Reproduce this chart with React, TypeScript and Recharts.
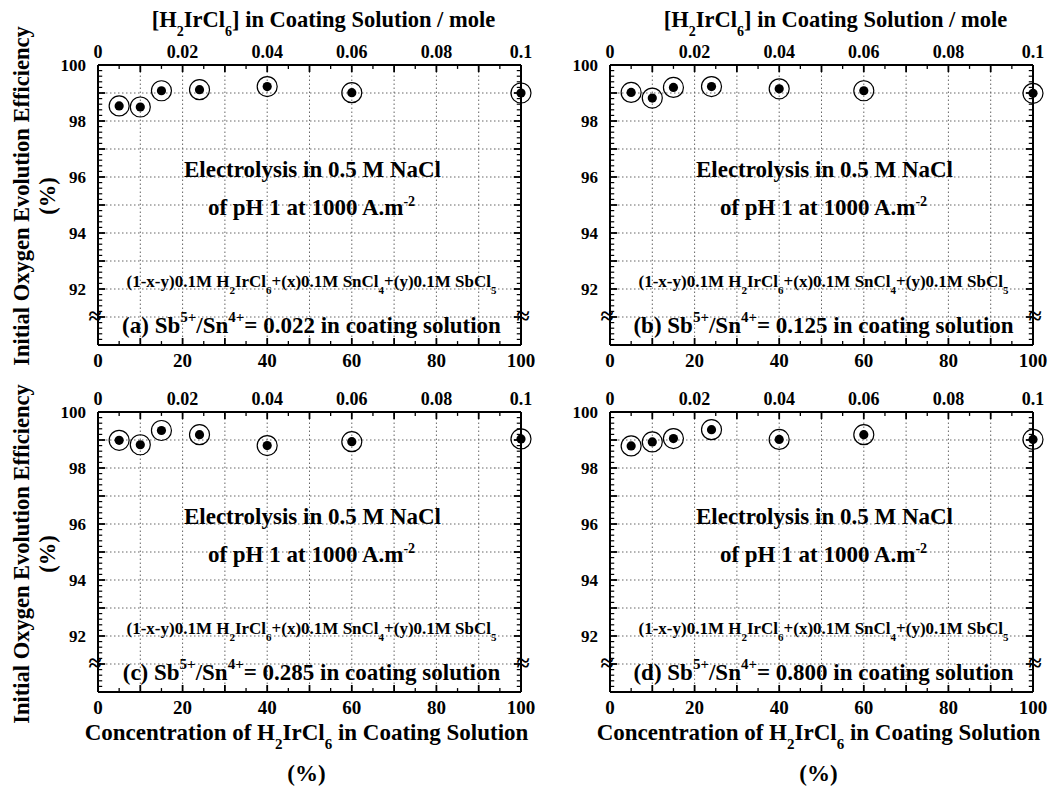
import React from "react";
import { ScatterChart, Scatter, XAxis, YAxis, ReferenceLine, ReferenceDot } from "recharts";

// H2IrCl6 share in the coating solution (%)
const conc = [5, 10, 15, 24, 40, 60, 100];

// initial O2 evolution efficiency (%) for each Sb/Sn ratio
const effA = [98.54, 98.5, 99.08, 99.12, 99.23, 99.01, 99.0];
const effB = [99.02, 98.82, 99.2, 99.23, 99.15, 99.08, 98.99];
const effC = [98.99, 98.83, 99.34, 99.19, 98.8, 98.94, 99.04];
const effD = [98.79, 98.93, 99.05, 99.37, 99.02, 99.19, 99.02];

const letters = ["a", "b", "c", "d"];
const ratios = ["0.022", "0.125", "0.285", "0.800"];

const xTicks = [0, 20, 40, 60, 80, 100];
const xGrid = [10, 20, 30, 40, 50, 60, 70, 80, 90];
const moleTicks = [0, 0.02, 0.04, 0.06, 0.08, 0.1];
const yTicks = [92, 94, 96, 98, 100];
const yGrid = [91, 92, 93, 94, 95, 96, 97, 98, 99];

const range = (a: number, b: number, step: number) => {
  const out: number[] = [];
  for (let v = a; v <= b + 1e-9; v += step) out.push(Math.round(v * 100) / 100);
  return out;
};
const xMinor = range(5, 95, 5);
const yMinor = range(90.2, 99.8, 0.2);

const FONT = "Liberation Serif, DejaVu Serif, serif";
const PW = 423;
const PH = 280;
const YW = 45;
const XH = 30;
const MR = 15;

// tick lengths in data units (~4px short, ~7px long)
const TX = [1.0, 1.7];
const TY = [0.14, 0.25];

const panels = [
  { eff: effA, left: 98, top: 65 },
  { eff: effB, left: 610, top: 65 },
  { eff: effC, left: 98, top: 412 },
  { eff: effD, left: 610, top: 412 },
];

const Marker = (props: any) => {
  const { cx, cy } = props;
  return (
    <g>
      <circle cx={cx} cy={cy} r={10} fill="none" stroke="#000" strokeWidth={1.2} />
      <circle cx={cx} cy={cy} r={4.6} fill="#000" />
    </g>
  );
};

const Hidden = () => <g />;

const Squiggle = (props: any) => (
  <text x={props.cx + (props.dx || 0)} y={props.cy + 7} textAnchor="middle" fontFamily={FONT} fontSize={24} fontWeight="bold" fill="#000">
    ≈
  </text>
);

const frame = { stroke: "#000", strokeWidth: 2 };

function Panel({ eff, left, top }: { eff: number[]; left: number; top: number }) {
  const data = conc.map((c, i) => ({ x: c, y: eff[i], m: c / 1000 }));
  const tickStyle = { fontFamily: FONT, fontWeight: "bold", fill: "#000" };
  const domY = [90, 100];
  const ax = { xAxisId: "b", yAxisId: "l" };
  const tickMarks: any[] = [];
  xMinor.forEach((v) => {
    const major = v % 10 === 0;
    const lenY = major ? TY[1] : TY[0];
    const sw = major ? 1.8 : 1.3;
    tickMarks.push(<ReferenceLine key={"xb" + v} {...ax} segment={[{ x: v, y: 90 }, { x: v, y: 90 + lenY }]} stroke="#000" strokeWidth={sw} />);
    tickMarks.push(<ReferenceLine key={"xt" + v} {...ax} segment={[{ x: v, y: 100 }, { x: v, y: 100 - lenY }]} stroke="#000" strokeWidth={sw} />);
  });
  yMinor.forEach((v) => {
    const isInt = Math.abs(v - Math.round(v)) < 1e-6;
    const len = isInt ? TX[1] : TX[0];
    const sw = isInt ? 1.8 : 1.2;
    tickMarks.push(<ReferenceLine key={"yl" + v} {...ax} segment={[{ x: 0, y: v }, { x: len, y: v }]} stroke="#000" strokeWidth={sw} />);
    tickMarks.push(<ReferenceLine key={"yr" + v} {...ax} segment={[{ x: 100, y: v }, { x: 100 - len, y: v }]} stroke="#000" strokeWidth={sw} />);
  });
  return (
    <div style={{ position: "absolute", left: left - YW, top: top - XH }}>
      <ScatterChart width={YW + PW + MR + 1} height={XH + PH + XH} margin={{ top: 0, right: MR, bottom: 0, left: 0 }}>
        <XAxis xAxisId="b" dataKey="x" orientation="bottom" type="number" domain={[0, 100]} ticks={xTicks} interval={0} tickLine={false} tickMargin={3} height={XH} axisLine={frame} tick={{ ...tickStyle, fontSize: 19 }} />
        <XAxis xAxisId="t" dataKey="m" orientation="top" type="number" domain={[0, 0.1]} ticks={moleTicks} interval={0} tickLine={false} tickMargin={1} height={XH} axisLine={frame} tick={{ ...tickStyle, fontSize: 18 }} />
        <YAxis yAxisId="l" dataKey="y" orientation="left" type="number" domain={domY} ticks={yTicks} interval={0} tickLine={false} tickMargin={6} width={YW} axisLine={frame} tick={{ ...tickStyle, fontSize: 17 }} />
        <YAxis yAxisId="r" dataKey="y" orientation="right" type="number" domain={domY} ticks={yTicks} interval={0} tick={false} tickLine={false} width={1} axisLine={frame} />
        {xGrid.map((v) => (
          <ReferenceLine key={"gx" + v} {...ax} x={v} stroke="#666" strokeWidth={1} strokeDasharray="1.5 2.5" />
        ))}
        {yGrid.map((v) => (
          <ReferenceLine key={"gy" + v} {...ax} y={v} stroke="#666" strokeWidth={1} strokeDasharray="1.5 2.5" />
        ))}
        {tickMarks}
        <ReferenceDot {...ax} x={0} y={91} shape={(p: any) => <Squiggle {...p} dx={-3} />} />
        <ReferenceDot {...ax} x={100} y={91} shape={(p: any) => <Squiggle {...p} dx={2} />} />
        <Scatter xAxisId="t" yAxisId="r" data={data} shape={Hidden} isAnimationActive={false} />
        <Scatter xAxisId="b" yAxisId="l" data={data} shape={Marker} isAnimationActive={false} />
      </ScatterChart>
    </div>
  );
}

const Sub = ({ t, size, d }: { t: string; size: number; d: number }) => (
  <tspan dy={d} fontSize={size}>
    {t}
  </tspan>
);

function Annotations() {
  return (
    <svg width={1052} height={788} style={{ position: "absolute", left: 0, top: 0, pointerEvents: "none" }} fontFamily={FONT} fontWeight="bold" fill="#000">
      {panels.map((p, i) => {
        const cx = p.left + PW / 2;
        return (
          <g key={i}>
            {i < 2 && (
              <text x={cx + 14} y={p.top - 38} textAnchor="middle" fontSize={22.5}>
                [H<Sub t="2" size={14} d={9} />
                <tspan dy={-9}>IrCl</tspan>
                <Sub t="6" size={14} d={9} />
                <tspan dy={-9}>] in Coating Solution / mole</tspan>
              </text>
            )}
            {i >= 2 && (
              <>
                <text x={cx - 3} y={p.top + 328} textAnchor="middle" fontSize={23}>
                  Concentration of H<Sub t="2" size={15} d={9} />
                  <tspan dy={-9}>IrCl</tspan>
                  <Sub t="6" size={15} d={9} />
                  <tspan dy={-9}> in Coating Solution</tspan>
                </text>
                <text x={cx - 3} y={p.top + 369} textAnchor="middle" fontSize={23}>
                  (%)
                </text>
              </>
            )}
            <text x={cx + 3} y={p.top + 112} textAnchor="middle" fontSize={23}>
              Electrolysis in 0.5 M NaCl
            </text>
            <text x={cx + 2} y={p.top + 150} textAnchor="middle" fontSize={23}>
              of  pH 1 at 1000 A.m<Sub t="-2" size={14} d={-9} />
            </text>
            <text x={cx + 2} y={p.top + 222} textAnchor="middle" fontSize={17}>
              (1-x-y)0.1M H<Sub t="2" size={11} d={7} />
              <tspan dy={-7}>IrCl</tspan>
              <Sub t="6" size={11} d={7} />
              <tspan dy={-7}>+(x)0.1M SnCl</tspan>
              <Sub t="4" size={11} d={7} />
              <tspan dy={-7}>+(y)0.1M SbCl</tspan>
              <Sub t="5" size={11} d={7} />
            </text>
            <text x={cx + 2} y={p.top + 268} textAnchor="middle" fontSize={23}>
              ({letters[i]}) Sb<Sub t="5+" size={15} d={-11} />
              <tspan dy={11}>/Sn</tspan>
              <Sub t="4+" size={15} d={-11} />
              <tspan dy={11}>= {ratios[i]} in coating solution</tspan>
            </text>
          </g>
        );
      })}
      {[196, 554].map((cy, i) => (
        <g key={"yl" + i}>
          <text x={29} y={cy} transform={`rotate(-90 29 ${cy})`} textAnchor="middle" fontSize={22.5}>
            Initial Oxygen Evolution Efficiency
          </text>
          <text x={55} y={cy} transform={`rotate(-90 55 ${cy})`} textAnchor="middle" fontSize={22.5}>
            (%)
          </text>
        </g>
      ))}
    </svg>
  );
}

export default function App() {
  return (
    <div style={{ position: "absolute", left: 0, top: 0, width: 1052, height: 788, background: "#fff", fontFamily: FONT }}>
      {panels.map((p, i) => (
        <Panel key={i} eff={p.eff} left={p.left} top={p.top} />
      ))}
      <Annotations />
    </div>
  );
}
